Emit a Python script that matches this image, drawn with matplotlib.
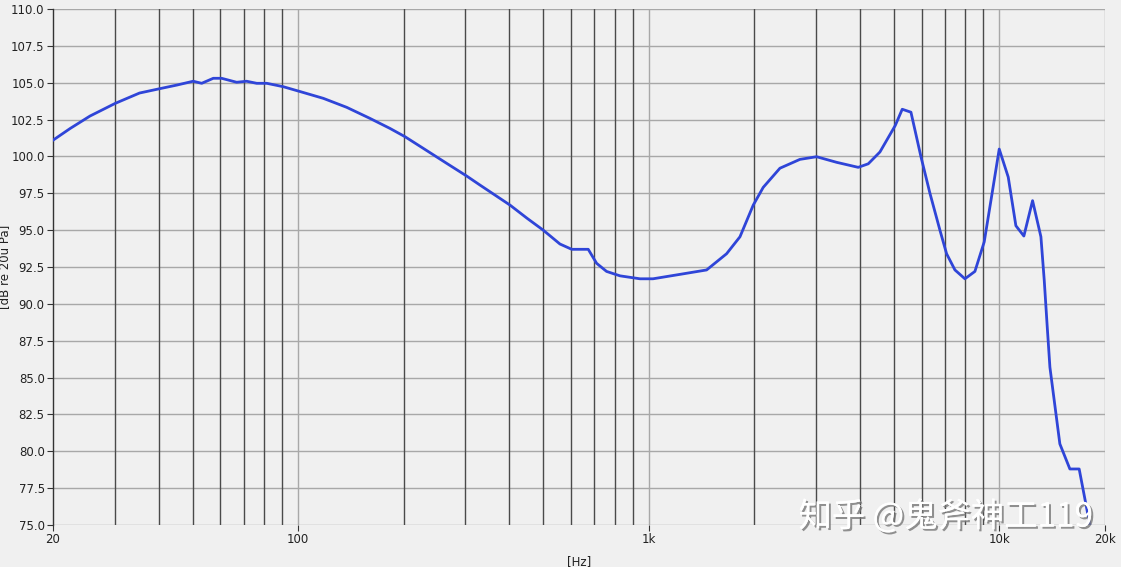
import matplotlib
matplotlib.use('Agg')
import matplotlib.pyplot as plt
import matplotlib.patheffects as pe
from matplotlib.ticker import FixedLocator, NullFormatter

# ------------------ Data --------------------

freqs = [20, 22.4, 25.5, 30.1, 35.3, 40.4, 45.1, 50.2, 53.1, 57.3, 60.5, 66.8, 71.3,
         76.2, 81.4, 90.7, 101.3, 118, 137.6, 160.3, 182.8, 201.7, 227.4, 265.3,
         302.5, 330, 402, 450, 500, 558, 603, 672, 710, 758, 828, 944, 1028, 1227,
         1462, 1667, 1820, 1986, 2120, 2366, 2698, 3010, 3434, 3956, 4226, 4562,
         5046, 5282, 5593, 5970, 6336, 6765, 7068, 7466, 7972, 8512, 9048, 9500,
         9986, 10594, 11140, 11740, 12430, 13130, 13420, 13690, 13930, 14870,
         15880, 16880, 18110]
spl = [101.1, 101.9, 102.74, 103.6, 104.3, 104.6, 104.84, 105.1, 104.96, 105.3,
       105.3, 105.03, 105.1, 104.96, 104.96, 104.73, 104.4, 103.94, 103.33, 102.58,
       101.9, 101.34, 100.55, 99.53, 98.67, 98.06, 96.7, 95.8, 95.0, 94.06, 93.7,
       93.7, 92.75, 92.2, 91.9, 91.7, 91.7, 92.0, 92.3, 93.4, 94.55, 96.7, 97.9,
       99.2, 99.8, 99.98, 99.6, 99.26, 99.5, 100.3, 102.1, 103.2, 103.0, 100.0,
       97.5, 95.0, 93.4, 92.3, 91.7, 92.2, 94.2, 97.3, 100.5, 98.6, 95.3, 94.6,
       97.0, 94.55, 91.6, 88.4, 85.7, 80.5, 78.8, 78.8, 75.0]

major_ticks = [20, 100, 1000, 10000, 20000]
major_labels = ['20', '100', '1k', '10k', '20k']
dark_lines = [30, 40, 50, 60, 70, 80, 90, 200, 300, 400, 500, 600, 700, 800, 900,
              2000, 3000, 4000, 5000, 6000, 7000, 8000, 9000]
light_lines = [100, 1000, 10000, 20000]
y_ticks = [75 + 2.5 * i for i in range(15)]

# ------------------ Plot --------------------

bg = '#f0f0f0'
fig = plt.figure(figsize=(11.21, 5.67), dpi=100, facecolor=bg)
ax = fig.add_axes([53 / 1121, 1 - 525 / 567, 1052 / 1121, 516 / 567])
ax.set_facecolor(bg)

ax.set_xscale('log')
ax.set_xlim(20, 20000)
ax.set_ylim(75, 110)

for y in y_ticks:
    ax.axhline(y, color='#a8a8a8', lw=1.0, zorder=1)
for x in dark_lines:
    ax.axvline(x, color='#4a4a4a', lw=1.0, zorder=1)
for x in light_lines:
    ax.axvline(x, color='#a8a8a8', lw=1.0, zorder=1)

ax.plot(freqs, spl, color='#2f45d8', lw=2.0, zorder=3, solid_joinstyle='round')

ax.xaxis.set_major_locator(FixedLocator(major_ticks))
ax.set_xticklabels(major_labels)
ax.xaxis.set_minor_formatter(NullFormatter())
ax.tick_params(axis='x', which='minor', length=0)
ax.set_yticks(y_ticks)
ax.set_yticklabels(['%.1f' % v for v in y_ticks])
ax.tick_params(axis='both', which='major', labelsize=8.5, length=4, width=0.8,
               color='#333333', labelcolor='#222222', pad=2)

for side in ['top', 'right', 'bottom']:
    ax.spines[side].set_visible(False)
ax.spines['left'].set_color('#333333')
ax.spines['left'].set_linewidth(1.0)

ax.set_xlabel('[Hz]', fontsize=8.5, color='#222222', labelpad=6)
fig.text(-0.002, 0.53, '[dB re 20u Pa]', rotation=90, fontsize=8.5,
         color='#222222', ha='left', va='center')

fig.text(0.975, 0.088, '知乎 @鬼斧神工119', fontsize=24, color='white',
         family=['Noto Sans CJK SC', 'DejaVu Sans'], ha='right', va='center',
         path_effects=[pe.withSimplePatchShadow(offset=(1.5, -1.5),
                                                shadow_rgbFace='#777777', alpha=0.8),
                       pe.Normal()], zorder=10)

fig.savefig('out.png', dpi=100, facecolor=bg)
